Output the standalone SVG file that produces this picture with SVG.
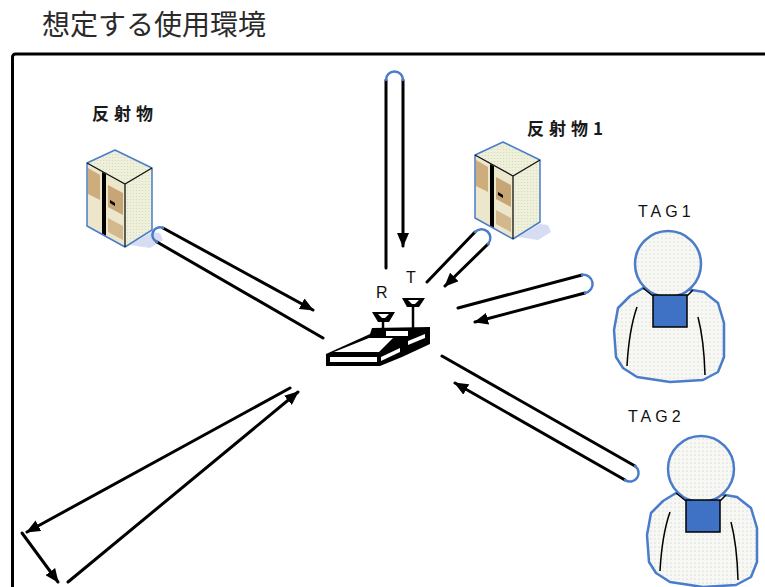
<svg xmlns="http://www.w3.org/2000/svg" width="765" height="587" viewBox="0 0 765 587">
  <style>
    .title { font-family: "Noto Sans CJK JP", "Noto Sans CJK SC", sans-serif; font-size: 28px; fill: #2a2a2a; }
    .jp { font-family: "Noto Sans CJK JP", "Noto Sans CJK SC", sans-serif; font-size: 17px; font-weight: bold; fill: #1a1a1a; letter-spacing: 5px; }
    .lat { font-family: "Liberation Sans", Arial, sans-serif; font-size: 16px; fill: #111; }
    .wire { fill: none; stroke: #000; stroke-width: 3; stroke-linecap: round; }
    .loop { fill: none; stroke: #4a7cc9; stroke-width: 2.5; stroke-linecap: round; }
    .edgeB { fill: none; stroke: #4a7cc9; stroke-width: 1.5; stroke-linejoin: round; }
    .edgeK { fill: none; stroke: #111; stroke-width: 1.3; }
    .who { fill: url(#dots); stroke: #4a7cc9; stroke-width: 2.5; stroke-linejoin: round; }
    .arm { fill: none; stroke: #000; stroke-width: 1.5; }
  </style>
  <defs>
    <marker id="ah" viewBox="0 0 14 12" refX="13" refY="6" markerWidth="14" markerHeight="12" markerUnits="userSpaceOnUse" orient="auto">
      <path d="M0,0 L14,6 L0,12 z" fill="#000"/>
    </marker>
    <pattern id="dots" width="4" height="4" patternUnits="userSpaceOnUse">
      <rect width="4" height="4" fill="#f7f7f4"/>
      <circle cx="2" cy="2" r="0.6" fill="#c4c4c4"/>
    </pattern>
    <pattern id="cream" width="3" height="3" patternUnits="userSpaceOnUse">
      <rect width="3" height="3" fill="#eef0da"/>
      <circle cx="1.5" cy="1.5" r="0.6" fill="#d4d8c0"/>
    </pattern>
    <!-- isometric equipment rack -->
    <g id="rack">
      <path d="M130,245 L152,232 L160,233 L163,240 L150,248 Z" fill="#d6dcf2"/>
      <path d="M87,163 L115,150 L152,168 L125,184 Z" fill="url(#cream)"/>
      <path d="M87,163 L125,184 L125,247 L87,226 Z" fill="#ece6cc"/>
      <path d="M88,168 L100,175 L100,200 L88,194 Z" fill="#c49a62" opacity="0.75"/>
      <path d="M108,185 L123,193 L123,215 L108,207 Z" fill="#b88a50" opacity="0.7"/>
      <path d="M108,218 L123,226 L123,240 L108,232 Z" fill="#c49a62" opacity="0.6"/>
      <path d="M125,184 L152,168 L152,230 L125,247 Z" fill="url(#cream)"/>
      <path d="M102,172 L106,174 L106,236 L102,234 Z" fill="#000"/>
      <path d="M110,200 L115,203 L115,206 L110,203 Z" fill="#000"/>
      <path d="M87,163 L115,150 L152,168 L152,230 L125,247 L87,226 Z" class="edgeB"/>
      <path d="M87,163 L125,184 L152,168 M125,184 L125,247" class="edgeK"/>
    </g>
    <!-- person wearing a tag -->
    <g id="person">
      <path class="who" d="M643,288 L630,296 L618,308 L614,330 L616,357 L623,368 L637,377 L670,382 L703,380 L718,372 L724,357 L724,323 L718,303 L704,292 L692,290 Z"/>
      <circle class="who" cx="668" cy="264" r="33"/>
      <path d="M643,288 L653,296 M687,296 L693,290" stroke="#000" stroke-width="1.5" fill="none"/>
      <rect x="653" y="295" width="34" height="32" fill="#3f72c4" stroke="#000" stroke-width="1.5"/>
      <path class="arm" d="M637,307 Q629,330 627,366"/>
      <path class="arm" d="M698,317 Q704,340 705,375"/>
    </g>
  </defs>

  <rect width="765" height="587" fill="#fff"/>

  <!-- heading and frame -->
  <text class="title" x="42" y="35">想定する使用環境</text>
  <rect x="12.5" y="54" width="800" height="600" rx="3" fill="none" stroke="#000" stroke-width="3"/>

  <!-- reflector, left -->
  <g id="reflector-a">
    <text class="jp" x="92" y="120">反射物</text>
    <use href="#rack"/>
  </g>

  <!-- reflector, right -->
  <g id="reflector-b">
    <text class="jp" x="527" y="135">反射物1</text>
    <use href="#rack" transform="translate(388,-8)"/>
  </g>

  <!-- reader with receive / transmit antennas -->
  <g id="reader">
    <path d="M326,354 L370,334 L372,328 L430,327 L430,344 L402,357 L380,366 L326,366 Z" fill="#000"/>
    <path d="M334,352 L369,338 L393,338 L379,352 Z" fill="#fff"/>
    <rect x="330" y="357" width="47" height="5" fill="#fff"/>
    <path d="M381,361 L400,352 L400,348 L381,357 Z" fill="#fff"/>
    <rect x="386" y="331" width="22" height="5" fill="#fff"/>
    <path d="M408,341 L425,334 L425,338 L408,345 Z" fill="#fff"/>
    <!-- R antenna -->
    <path d="M383,322 L383,333" stroke="#000" stroke-width="2.5"/>
    <path d="M372,312 L395,312 L389,322 L378,322 Z" fill="#000"/>
    <path d="M378,314 L389,314 L385,318 L382,318 Z" fill="#fff"/>
    <!-- T antenna -->
    <path d="M413,307 L413,330" stroke="#000" stroke-width="2.5"/>
    <path d="M402,298 L425,298 L419,307 L407,307 Z" fill="#000"/>
    <path d="M408,300 L419,300 L415,304 L412,304 Z" fill="#fff"/>
    <text class="lat" x="376" y="298">R</text>
    <text class="lat" x="406" y="283">T</text>
  </g>

  <!-- tag carrier 1 -->
  <g id="tag1">
    <text class="lat" x="638" y="217" style="letter-spacing:4px">TAG1</text>
    <use href="#person"/>
  </g>

  <!-- tag carrier 2 -->
  <g id="tag2">
    <text class="lat" x="628" y="422" style="letter-spacing:4px">TAG2</text>
    <use href="#person" transform="translate(33,205)"/>
  </g>

  <!-- signal paths -->
  <g id="connectors">
    <!-- from above -->
    <path class="wire" d="M386,80 L386,268"/>
    <path class="wire" d="M403,80 L403,246" marker-end="url(#ah)"/>
    <path class="loop" d="M386,80 A8.5,8.5 0 0 1 403,80"/>
    <!-- via left reflector -->
    <path class="wire" d="M163,228 L313,310" marker-end="url(#ah)"/>
    <path class="wire" d="M157,242 L323,338"/>
    <path class="loop" d="M157,242 A7.6,7.6 0 0 1 163,228"/>
    <!-- via right reflector -->
    <path class="wire" d="M475,232 L427,282"/>
    <path class="wire" d="M488,244 L445,286" marker-end="url(#ah)"/>
    <path class="loop" d="M475,232 A8.8,8.8 0 0 1 488,244"/>
    <!-- TAG1 -->
    <path class="wire" d="M582,275 L458,308"/>
    <path class="wire" d="M585,293 L475,322" marker-end="url(#ah)"/>
    <path class="loop" d="M582,275 A9.1,9.1 0 0 1 585,293"/>
    <!-- TAG2 -->
    <path class="wire" d="M635,466 L442,356"/>
    <path class="wire" d="M625,480 L455,383" marker-end="url(#ah)"/>
    <path class="loop" d="M635,466 A8.6,8.6 0 0 1 625,480"/>
    <!-- lower-left bounce -->
    <path class="wire" d="M290,388 L27,532" marker-end="url(#ah)"/>
    <path class="wire" d="M22,533 L58,582" marker-end="url(#ah)"/>
    <path class="wire" d="M68,582 L298,392" marker-end="url(#ah)"/>
  </g>
</svg>
